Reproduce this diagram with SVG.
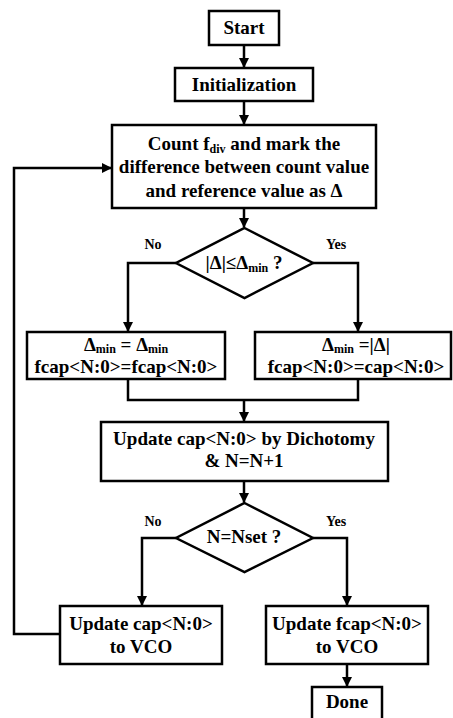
<svg xmlns="http://www.w3.org/2000/svg" width="453" height="718" viewBox="0 0 453 718">
<style>
rect,polygon{fill:#fff;stroke:#000;stroke-width:2.5}
.c{fill:none;stroke:#000;stroke-width:2.5}
text{font-family:"Liberation Serif","Times New Roman",serif;font-weight:bold;font-size:19px;text-anchor:middle;fill:#000}
.s{font-size:12px}
.l{font-size:14px}
</style>
<defs>
<marker id="a" markerWidth="10" markerHeight="12" refX="9" refY="5" orient="auto" markerUnits="userSpaceOnUse"><path d="M0,0 L10,5 L0,10 z" fill="#000"/></marker>
</defs>
<g id="connectors">
<path class="c" d="M244,45 V67" marker-end="url(#a)"/>
<path class="c" d="M244,101 V124" marker-end="url(#a)"/>
<path class="c" d="M244,208 V227" marker-end="url(#a)"/>
<path class="c" d="M176,263 H128 V331" marker-end="url(#a)"/>
<path class="c" d="M313,263 H358 V331" marker-end="url(#a)"/>
<path class="c" d="M128,379 V400 H358 V379"/>
<path class="c" d="M244,400 V421" marker-end="url(#a)"/>
<path class="c" d="M244,481 V502" marker-end="url(#a)"/>
<path class="c" d="M176,538 H142 V605" marker-end="url(#a)"/>
<path class="c" d="M313,538 H347 V605" marker-end="url(#a)"/>
<path class="c" d="M347,664 V686" marker-end="url(#a)"/>
<path class="c" d="M60,634 H14 V168 H111" marker-end="url(#a)"/>
</g>
<g id="start"><rect x="209" y="11" width="70" height="34"/><text x="244" y="34">Start</text></g>
<g id="init"><rect x="175" y="68" width="138" height="33"/><text x="244" y="91">Initialization</text></g>
<g id="count"><rect x="112" y="125" width="264" height="83"/>
<text x="244" y="150">Count f<tspan class="s" dy="3">div</tspan><tspan dy="-3"> and mark the</tspan></text>
<text x="244" y="173">difference between count value</text>
<text x="244" y="197">and reference value as Δ</text></g>
<g id="dec1"><polygon points="244.5,228 313,263 244.5,298 176,263"/>
<text x="244" y="269">|Δ|≤Δ<tspan class="s" dy="3">min</tspan><tspan dy="-3"> ?</tspan></text></g>
<g id="lbl1"><text class="l" x="153" y="249">No</text><text class="l" x="336" y="249">Yes</text></g>
<g id="keep"><rect x="27" y="332" width="198" height="47"/>
<text x="126" y="351">Δ<tspan class="s" dy="2">min</tspan><tspan dy="-2"> = Δ</tspan><tspan class="s" dy="2">min</tspan></text>
<text x="126" y="373">fcap&lt;N:0&gt;=fcap&lt;N:0&gt;</text></g>
<g id="upd"><rect x="255" y="332" width="196" height="47"/>
<text x="356" y="351">Δ<tspan class="s" dy="2">min</tspan><tspan dy="-2"> =|Δ|</tspan></text>
<text x="356" y="373">fcap&lt;N:0&gt;=cap&lt;N:0&gt;</text></g>
<g id="dich"><rect x="101" y="422" width="287" height="59"/>
<text x="244" y="445">Update cap&lt;N:0&gt; by Dichotomy</text>
<text x="244" y="467">&amp; N=N+1</text></g>
<g id="dec2"><polygon points="244.5,503 313,538 244.5,572 176,538"/>
<text x="244" y="543">N=Nset ?</text></g>
<g id="lbl2"><text class="l" x="153" y="526">No</text><text class="l" x="336" y="526">Yes</text></g>
<g id="vco1"><rect x="60" y="606" width="162" height="58"/>
<text x="141" y="630">Update cap&lt;N:0&gt;</text><text x="141" y="653">to VCO</text></g>
<g id="vco2"><rect x="266" y="606" width="162" height="58"/>
<text x="347" y="630">Update fcap&lt;N:0&gt;</text><text x="347" y="653">to VCO</text></g>
<g id="done"><rect x="312" y="687" width="70" height="40"/><text x="347" y="708">Done</text></g>
</svg>
